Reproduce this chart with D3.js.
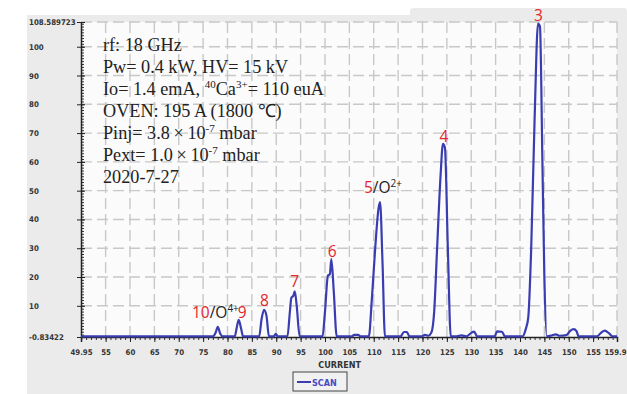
<!DOCTYPE html>
<html>
<head>
<meta charset="utf-8">
<script src="https://cdn.jsdelivr.net/npm/d3@7"></script>
<style>
  body { margin: 0; background: #fff; }
  svg { display: block; }
</style>
</head>
<body>
<div class="chart"></div>
<script>
// scan data (CURRENT vs signal)
var current = [49.95, 77.0, 77.6, 78.0, 78.5, 79.0, 81.5, 81.9, 82.3, 82.8, 83.2,
  86.5, 87.0, 87.5, 88.0, 88.5, 89.5, 89.9, 90.3, 92.3, 92.8, 93.1, 93.5, 93.8, 94.2, 94.8,
  99.5, 100.0, 100.6, 101.0, 101.3, 101.8, 102.4, 105.5, 106.0, 106.8, 107.3,
  109.0, 109.6, 110.3, 111.0, 111.3, 111.8, 112.3, 115.5, 116.2, 116.8, 117.3,
  119.8, 120.5, 121.2, 121.8, 122.4, 123.0, 123.7, 124.2, 124.6, 125.2, 125.8,
  127.0, 128.0, 129.0, 130.0, 130.6, 131.2, 134.8, 135.3, 136.3, 136.9,
  140.5, 141.2, 141.7, 142.3, 143.0, 143.7, 144.1, 144.6, 145.0, 145.5,
  146.5, 147.3, 148.1, 149.5, 150.3, 151.0, 151.6, 152.0, 155.8, 156.6, 157.4, 158.3, 159.0, 159.9];
var scan = [-0.6, -0.6, 0.8, 2.7, 0.4, -0.6, -0.6, 2.5, 5.1, 2.0, -0.6,
  -0.6, 5.5, 8.6, 6.5, -0.6, -0.6, 0.3, -0.6, -0.6, 8, 12.8, 13.5, 15, 10, -0.6,
  -0.6, 8, 20.5, 21, 26.2, 15, -0.6, -0.6, -0.1, -0.1, -0.6,
  -0.6, 12, 30, 44, 46, 25, -0.6, -0.6, 0.9, 0.9, -0.6,
  -0.6, -0.1, -0.4, 0.6, 8, 30, 55, 66.3, 65, 30, -0.6,
  -0.6, -0.3, -0.6, 0.6, 1.0, -0.6, -0.6, 1.1, 1.0, -0.6,
  -0.6, 2, 6, 30, 75, 108, 107, 60, 20, -0.6,
  -0.3, 0.1, -0.4, -0.2, 1.3, 1.9, 1.2, -0.6, -0.6, 0.6, 1.4, 0.4, -0.6, -0.6];

var xTicks = [49.95, 55, 60, 65, 70, 75, 80, 85, 90, 95, 100, 105, 110, 115, 120, 125, 130, 135, 140, 145, 150, 155, 159.9];
var yTicks = [-0.83422, 10, 20, 30, 40, 50, 60, 70, 80, 90, 100, 108.589723];

// peak labels: red part, black part, superscript, x and y in chart units
var peakText = ["3", "4", "5", "6", "7", "8", "10"];
var peakOther = ["", "", "/O", "", "", "", "/O"];
var peakSup = ["", "", "2+", "", "", "", "4+"];
var peakX = [143.8, 124.4, 108.0, 101.5, 93.8, 87.6, 72.7];
var peakY = [108.8, 67.0, 49.2, 26.8, 16.6, 9.8, 5.9];

var infoLines = [
  [["rf: 18 GHz"]],
  [["Pw= 0.4 kW, HV= 15 kV"]],
  [["Io= 1.4 emA, "], ["40", "sup"], ["Ca"], ["3+", "sup"], ["= 110 euA"]],
  [["OVEN: 195 A (1800 \u2103)"]],
  [["Pinj= 3.8\u2009\u00d7\u200910"], ["-7", "sup"], [" mbar"]],
  [["Pext= 1.0\u2009\u00d7\u200910"], ["-7", "sup"], [" mbar"]],
  [["2020-7-27"]]
];

var svgWidth = 627;
var svgHeight = 394;
var margin = { top: 22, right: 10, bottom: 57, left: 81 };
var width = 617 - margin.left;
var height = 337 - margin.top;

var svg = d3.select(".chart").append("svg")
  .attr("width", svgWidth)
  .attr("height", svgHeight);

// grey window background
svg.append("rect").attr("x", 27).attr("y", 15).attr("width", 600).attr("height", 379).attr("fill", "#ebebeb");
svg.append("rect").attr("x", 410).attr("y", 8).attr("width", 217).attr("height", 20).attr("rx", 3).attr("fill", "#ebebeb");

var chartGroup = svg.append("g")
  .attr("transform", `translate(${margin.left}, ${margin.top})`);

var xLinearScale = d3.scaleLinear().domain([49.95, 159.9]).range([0, width]);
var yLinearScale = d3.scaleLinear().domain([-0.83422, 108.589723]).range([height, 0]);

chartGroup.append("rect").attr("width", width).attr("height", height).attr("fill", "#fbfbfb");

// dashed grid
var gridX = xTicks.slice(1);
chartGroup.selectAll(".gx").data(gridX).enter().append("line")
  .attr("x1", d => xLinearScale(d)).attr("x2", d => xLinearScale(d))
  .attr("y1", 0).attr("y2", height)
  .attr("stroke", "#c8c8c8").attr("stroke-width", 1.4).attr("stroke-dasharray", "11,5");
chartGroup.selectAll(".gy").data(yTicks.slice(1)).enter().append("line")
  .attr("y1", d => yLinearScale(d)).attr("y2", d => yLinearScale(d))
  .attr("x1", 0).attr("x2", width)
  .attr("stroke", "#c8c8c8").attr("stroke-width", 1.4).attr("stroke-dasharray", "11,5");

// minor ticks
var minorX = d3.range(50, 160, 1);
var minorY = d3.range(0, 109, 1);
chartGroup.append("g").attr("transform", `translate(0, ${height})`)
  .call(d3.axisBottom(xLinearScale).tickValues(minorX).tickSize(3).tickFormat(""))
  .call(g => g.select(".domain").remove())
  .selectAll("line").attr("stroke", "#333");
chartGroup.append("g")
  .call(d3.axisRight(yLinearScale).tickValues(minorY).tickSize(3).tickFormat(""))
  .call(g => g.select(".domain").remove())
  .selectAll("line").attr("stroke", "#333");

// major axes
var xAxis = chartGroup.append("g").attr("transform", `translate(0, ${height})`)
  .call(d3.axisBottom(xLinearScale).tickValues(xTicks).tickSize(5).tickPadding(7).tickFormat(d => String(d)));
var yAxis = chartGroup.append("g")
  .call(d3.axisLeft(yLinearScale).tickValues(yTicks).tickSizeInner(-4).tickSizeOuter(0).tickFormat(d => String(d)));
yAxis.selectAll(".tick line").attr("x1", -4).attr("x2", 4);
yAxis.selectAll(".tick text").attr("text-anchor", "start").attr("x", 29 - margin.left);
// keep the last label inside the window
xAxis.selectAll(".tick text").filter(d => d === 159.9).attr("dx", -2);

[xAxis, yAxis].forEach(function(ax) {
  ax.select(".domain").attr("stroke", "#222").attr("stroke-width", 1.5);
  ax.selectAll(".tick line").attr("stroke", "#222");
  ax.selectAll(".tick text")
    .attr("font-family", "'DejaVu Sans Condensed', 'DejaVu Sans', sans-serif")
    .attr("font-weight", "bold").attr("font-size", 7.8).attr("fill", "#333");
});

chartGroup.append("text")
  .attr("x", xLinearScale(103)).attr("y", height + 31)
  .attr("text-anchor", "middle")
  .attr("font-family", "'DejaVu Sans Condensed', 'DejaVu Sans', sans-serif")
  .attr("font-weight", "bold").attr("font-size", 9).attr("fill", "#333")
  .text("CURRENT");

// the scan line
var points = current.map((c, i) => [c, scan[i]]);
var line = d3.line()
  .x(d => xLinearScale(d[0]))
  .y(d => yLinearScale(d[1]))
  .curve(d3.curveMonotoneX);
chartGroup.append("path").datum(points)
  .attr("d", line)
  .attr("fill", "none")
  .attr("stroke", "#3a3db0")
  .attr("stroke-width", 2.2)
  .attr("stroke-linejoin", "round");

// peak labels
peakText.forEach(function(t, i) {
  var txt = chartGroup.append("text")
    .attr("x", xLinearScale(peakX[i])).attr("y", yLinearScale(peakY[i]))
    .attr("text-anchor", peakOther[i] ? "start" : "middle")
    .attr("font-family", "'Open Sans', 'Liberation Sans', sans-serif")
    .attr("font-size", 15.5);
  txt.append("tspan").attr("fill", "#e3262b").text(t);
  if (peakOther[i]) {
    txt.append("tspan").attr("fill", "#222").text(peakOther[i]);
    txt.append("tspan").attr("fill", "#222").attr("font-size", 10).attr("dy", -6).text(peakSup[i]);
  }
});
// the "9" sitting on top of the O4+ label
chartGroup.append("text")
  .attr("x", xLinearScale(83.0)).attr("y", yLinearScale(5.9))
  .attr("text-anchor", "middle")
  .attr("font-family", "'Open Sans', 'Liberation Sans', sans-serif")
  .attr("font-size", 15.5).attr("fill", "#e3262b").text("9");

// source settings text
var info = chartGroup.append("g")
  .attr("font-family", "'Liberation Serif', 'Times New Roman', serif")
  .attr("font-size", 18.2).attr("fill", "#222");
infoLines.forEach(function(parts, i) {
  var t = info.append("text").attr("x", 103 - margin.left).attr("y", 51 - margin.top + i * 22);
  parts.forEach(function(p) {
    if (p[1] === "sup") {
      t.append("tspan").attr("font-size", 11).attr("dy", -7).text(p[0]);
    } else {
      var s = t.append("tspan").text(p[0]);
      if (t.selectAll("tspan").size() > 1) s.attr("dy", 7);
    }
  });
});

// legend
var legend = svg.append("g").attr("transform", "translate(293, 372)");
legend.append("rect").attr("width", 54).attr("height", 19)
  .attr("fill", "#f1f1f1").attr("stroke", "#444").attr("stroke-width", 1);
legend.append("line").attr("x1", 4).attr("x2", 18).attr("y1", 10).attr("y2", 10)
  .attr("stroke", "#3a3db0").attr("stroke-width", 2);
legend.append("text").attr("x", 19).attr("y", 14)
  .attr("font-family", "'DejaVu Sans Condensed', 'DejaVu Sans', sans-serif")
  .attr("font-weight", "bold").attr("font-size", 9).attr("fill", "#4a4ac0")
  .text("SCAN");
</script>
</body>
</html>
